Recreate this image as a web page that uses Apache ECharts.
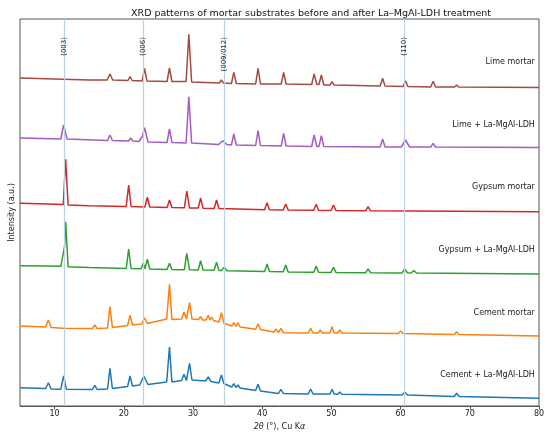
<!DOCTYPE html>
<html><head><meta charset="utf-8">
<script src="https://cdn.jsdelivr.net/npm/echarts@6/dist/echarts.min.js"></script>
<style>html,body{margin:0;padding:0;background:#fff}#c{width:550px;height:437px}</style>
</head><body><div id="c"></div>
<script>
// 2θ tick labels
const xTicks = [10, 20, 30, 40, 50, 60, 70, 80];
// LDH reflections (2θ) and their labels
const ldhPos = [11.35, 22.75, 34.5, 60.55];
const ldhLabels = ['(003)', '(006)', '(009/012)', '(110)'];
// series names
const names = ['Lime mortar', 'Lime + La-MgAl-LDH', 'Gypsum mortar', 'Gypsum + La-MgAl-LDH', 'Cement mortar', 'Cement + La-MgAl-LDH'];
// label height for each trace (a.u., offset scale)
const labelY = [344, 281, 218.7, 156, 93.3, 31];
// patterns as [2θ, intensity a.u. (offset)]
const limeMortar = [[5,328],[10,327],[15,326],[17.6,326],[18.0,332],[18.4,326],[20.6,325.5],[20.9,329.3],[21.2,325.5],[22.65,325],[23.0,337.7],[23.35,325],[26.25,324.5],[26.6,338],[26.95,324.5],[29.0,324.5],[29.4,371.7],[29.8,324],[33.8,323],[34.1,326],[34.4,323],[35.55,322.5],[35.9,333.7],[36.25,322.5],[39.05,322],[39.4,337.7],[39.75,322],[42.75,322],[43.1,333.7],[43.45,322],[47.15,321.5],[47.5,332],[47.9,321.5],[48.2,321.5],[48.55,331],[48.9,321],[49.8,321],[50.1,324.3],[50.4,321],[57.05,320],[57.4,327.7],[57.75,320],[60.35,319.5],[60.7,325.3],[61.05,319.5],[64.35,319],[64.7,324.7],[65.05,319],[67.8,319],[68.1,321],[68.4,319],[80,318.5]];
const limeLDH = [[5,268],[10.9,267],[11.3,281],[11.8,267],[17.65,265.5],[18.0,271],[18.35,265.5],[20.7,265],[21.0,268],[21.3,265],[22.2,264.5],[22.7,270],[23.0,278.3],[23.5,264],[26.25,263.5],[26.6,277],[26.95,263.5],[29.0,263],[29.4,309.3],[29.8,263],[33.7,261.5],[34.3,265.3],[34.9,261.5],[35.55,261],[35.9,272],[36.25,261],[39.05,260.5],[39.4,275.3],[39.75,260.5],[42.75,260],[43.1,272.7],[43.45,260],[47.15,259.5],[47.5,271],[47.9,259.5],[48.2,259.5],[48.55,270.3],[48.9,259.5],[57.05,259],[57.4,267],[57.75,259],[60.1,259],[60.7,266],[61.3,259],[64.35,259],[64.7,262.7],[65.05,259],[80,258.5]];
const gypsumMortar = [[5,202.7],[9,202],[11.25,201.5],[11.6,246.7],[11.95,201],[15,200.3],[20.35,199.5],[20.7,221],[21.05,199.5],[23.05,199],[23.4,208.7],[23.75,199],[26.25,198.5],[26.6,206],[26.95,198.5],[28.75,198.2],[29.1,215],[29.5,198],[30.75,198],[31.1,207.7],[31.45,197.8],[33.05,197.5],[33.4,206],[33.75,197.5],[40.35,196.2],[40.7,203.3],[41.05,196.2],[43.05,196],[43.4,202],[43.75,196],[47.45,195.7],[47.8,201.7],[48.15,195.7],[49.95,195.5],[50.3,201],[50.65,195.5],[54.95,195.2],[55.3,199.3],[55.65,195.2],[80,194.3]];
const gypsumLDH = [[5,140.3],[9,140],[10.9,139.7],[11.3,154.3],[11.45,160],[11.6,184.3],[11.95,139.3],[15,138.5],[20.35,137.5],[20.7,157],[21.05,137.5],[22.5,137.2],[22.8,142.7],[23.05,137.2],[23.15,138],[23.4,146.7],[23.75,137],[26.25,136.5],[26.6,142.7],[26.95,136.5],[28.75,136.3],[29.1,152.7],[29.5,136.2],[30.75,136],[31.1,145.3],[31.45,136],[33.05,135.7],[33.4,143.7],[33.75,135.5],[34.1,135.5],[34.5,138.7],[34.9,135.3],[40.35,134.5],[40.7,142],[41.05,134.5],[43.05,134.2],[43.4,141],[43.75,134],[47.45,133.8],[47.8,140],[48.15,133.8],[49.95,133.6],[50.3,138.7],[50.65,133.6],[54.95,133.3],[55.3,137],[55.65,133.3],[60.2,133],[60.6,136.7],[61.0,133.2],[61.5,133],[61.9,135.3],[62.3,133],[80,132]];
const cementMortar = [[5,80],[8.7,79],[9.1,86],[9.5,78.5],[11.2,77.7],[15.45,77.5],[15.8,81],[16.15,77.5],[17.65,78],[18.0,99.3],[18.35,78.5],[20.55,80.5],[20.9,90.7],[21.25,81],[22.6,82],[23.0,88.3],[23.4,82.5],[26.2,87],[26.6,121.7],[26.95,86.5],[28.35,87],[28.7,94],[29.05,87],[29.15,87],[29.5,103.3],[29.85,87],[30.8,86.5],[31.1,89.3],[31.4,86],[31.9,86],[32.2,90.7],[32.45,86],[32.7,89],[32.95,85.5],[33.75,84],[34.1,93.3],[34.45,83],[35.6,80],[35.9,83.3],[36.2,79.5],[36.5,83.3],[36.8,79],[39.05,76.7],[39.4,82.3],[39.75,76.5],[41.7,74],[42.0,76.7],[42.35,73.5],[42.7,77.7],[43.05,73.3],[46.65,73],[47.0,77.7],[47.35,73],[48.1,73],[48.4,76],[48.7,73],[49.8,73],[50.1,79.3],[50.4,73],[50.9,73],[51.2,76],[51.5,73],[59.65,72.5],[60.0,75],[60.35,72.5],[67.75,71.5],[68.1,74.3],[68.45,71.5],[80,70]];
const cementLDH = [[5,18.3],[8.7,17.5],[9.1,23.3],[9.5,17],[10.9,16.8],[11.3,30],[11.7,16.7],[15.45,16.5],[15.8,20.7],[16.15,16.5],[17.65,17],[18.0,37.7],[18.35,17.5],[20.55,19.5],[20.9,30],[21.25,20],[22.3,21],[22.9,30],[23.5,21.5],[26.2,24],[26.6,59],[26.95,24],[28.35,25.5],[28.7,31.7],[29.05,25.5],[29.15,26],[29.5,42.7],[29.85,26],[31.8,25],[32.2,29],[32.6,24.5],[33.75,23],[34.1,31],[34.45,22.5],[35.6,19],[35.9,22.3],[36.2,18.5],[36.5,21],[36.8,18],[39.05,15.5],[39.4,21.7],[39.75,15],[42.35,12.5],[42.7,16.7],[43.05,12.5],[46.65,12],[47.0,17],[47.35,12],[49.8,12],[50.1,16.7],[50.4,12],[50.9,11.8],[51.2,14],[51.5,11.8],[60.2,11],[60.6,13.7],[61.0,11],[67.75,9.5],[68.1,12.7],[68.45,9.5],[80,7.7]];

const patterns = [limeMortar, limeLDH, gypsumMortar, gypsumLDH, cementMortar, cementLDH];
const colors = ['#a44a3f', '#a55cc0', '#d62728', '#2ca02c', '#ff7f0e', '#1f77b4'];
const FONT = 'DejaVu Sans';

const series = [{
  type: 'line', data: [], z: 1, silent: true,
  markLine: {
    symbol: 'none', silent: true, animation: false,
    lineStyle: { color: '#bcd3e6', width: 1.2, type: 'solid' },
    label: { show: true, position: 'insideEnd', distance: 18, fontSize: 7, color: '#222', fontFamily: FONT },
    data: ldhPos.map((v, i) => ({ xAxis: v, label: { formatter: ldhLabels[i] } }))
  }
}];
patterns.forEach((d, i) => {
  series.push({
    name: names[i], type: 'line', data: d, showSymbol: false, symbol: 'none', z: 2,
    lineStyle: { color: colors[i], width: 1.5 }, itemStyle: { color: colors[i] },
    markPoint: {
      symbol: 'circle', symbolSize: 0, silent: true, animation: false,
      label: { show: true, position: 'left', distance: 0, formatter: names[i], fontSize: 8, color: '#222', fontFamily: FONT },
      data: [{ coord: [79.4, labelY[i]] }]
    }
  });
});

const chart = echarts.init(document.getElementById('c'), null, { renderer: 'canvas' });
chart.setOption({
  animation: false,
  backgroundColor: '#fff',
  title: {
    text: 'XRD patterns of mortar substrates before and after La–MgAl-LDH treatment',
    left: 306, top: 4, textAlign: 'center',
    textStyle: { fontSize: 9.5, fontWeight: 'normal', color: '#111', fontFamily: FONT }
  },
  grid: { left: 18, top: 19, right: 11, bottom: 31, show: true, borderColor: '#555', borderWidth: 1, backgroundColor: 'transparent' },
  xAxis: {
    type: 'value', min: 5, max: 80,
    name: '{i|2θ} (°), Cu K{i|α}', nameLocation: 'middle', nameGap: 17,
    nameTextStyle: { fontSize: 8, color: '#222', fontFamily: FONT, rich: { i: { fontStyle: 'italic', fontSize: 8, color: '#222', fontFamily: FONT } } },
    axisLine: { lineStyle: { color: '#555' } },
    axisTick: { show: true, length: 3.5, lineStyle: { color: '#555' }, customValues: xTicks },
    axisLabel: { fontSize: 8, color: '#222', margin: 4, fontFamily: FONT, customValues: xTicks },
    splitLine: { show: false }
  },
  yAxis: {
    type: 'value', min: 0, max: 387,
    name: 'Intensity (a.u.)', nameLocation: 'middle', nameGap: 4,
    nameTextStyle: { fontSize: 8, color: '#222', fontFamily: FONT },
    axisLine: { show: false }, axisTick: { show: false }, axisLabel: { show: false }, splitLine: { show: false }
  },
  series: series
});
</script></body></html>
